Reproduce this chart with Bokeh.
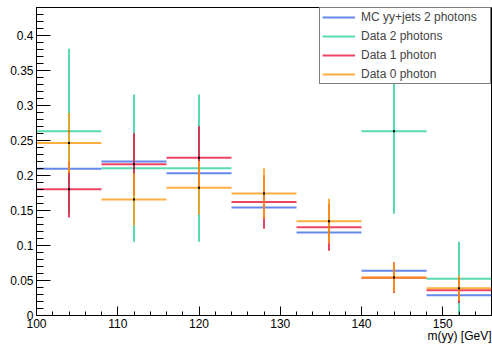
from bokeh.plotting import figure
from bokeh.models import (ColumnDataSource, FixedTicker, CustomJSTickFormatter,
                          Legend, LegendItem, Title, Range1d)
from bokeh.embed import file_html
from bokeh.resources import INLINE

# ---- data ----
bin_edges = [100, 108, 116, 124, 132, 140, 148, 156]

mc_2ph = [0.2095, 0.2200, 0.2033, 0.1543, 0.1186, 0.0638, 0.0290]
mc_2ph_err = [0.004, 0.004, 0.004, 0.003, 0.003, 0.002, 0.002]

data_2ph = [0.2632, 0.2105, 0.2105, 0.0, 0.0, 0.2632, 0.0526]
data_2ph_err = [0.1177, 0.1053, 0.1053, 0.0, 0.0, 0.1177, 0.0526]

data_1ph = [0.1802, 0.2162, 0.2252, 0.1622, 0.1261, 0.0541, 0.0360]
data_1ph_err = [0.0403, 0.0441, 0.0450, 0.0382, 0.0337, 0.0221, 0.0180]

data_0ph = [0.2464, 0.1657, 0.1824, 0.1743, 0.1348, 0.0543, 0.0390]
data_0ph_err = [0.0430, 0.0370, 0.0380, 0.0360, 0.0320, 0.0210, 0.0180]

series_names = ["MC yy+jets 2 photons", "Data 2 photons", "Data 1 photon", "Data 0 photon"]
series_values = [mc_2ph, data_2ph, data_1ph, data_0ph]
series_errors = [mc_2ph_err, data_2ph_err, data_1ph_err, data_0ph_err]
series_colors = ["#3f6ae8", "#2ed19e", "#e8163e", "#ff9a10"]

y_ticks = [0, 0.05, 0.1, 0.15, 0.2, 0.25, 0.3, 0.35, 0.4]
y_minor = [i / 100 for i in range(0, 45)]
x_ticks = [100, 110, 120, 130, 140, 150]
x_minor = list(range(100, 157, 2))
x_title = "m(yy) [GeV]"

FONT = "Liberation Sans"

p = figure(width=492, height=347, output_backend="svg", toolbar_location=None,
           x_range=Range1d(100, 156), y_range=Range1d(0, 0.44),
           min_border_left=36, min_border_right=1, min_border_top=7, min_border_bottom=32)
p.xgrid.visible = False
p.ygrid.visible = False
p.outline_line_color = "black"
p.outline_line_width = 1
p.background_fill_color = "white"
p.border_fill_color = "white"

for ax in (p.xaxis[0], p.yaxis[0]):
    ax.axis_line_color = "black"
    ax.major_tick_line_color = "black"
    ax.minor_tick_line_color = "black"
    ax.major_tick_out = 0
    ax.minor_tick_out = 0
    ax.major_label_text_font = FONT
    ax.major_label_text_font_size = "12px"
    ax.major_label_text_color = "black"
    ax.major_label_standoff = 3

p.xaxis.ticker = FixedTicker(ticks=x_ticks, minor_ticks=x_minor)
p.yaxis.ticker = FixedTicker(ticks=y_ticks, minor_ticks=y_minor)
p.xaxis.major_tick_in = 9
p.xaxis.minor_tick_in = 4
p.yaxis.major_tick_in = 14
p.yaxis.minor_tick_in = 7
p.yaxis.formatter = CustomJSTickFormatter(code="return String(Math.round(tick*100)/100);")
p.xaxis.formatter = CustomJSTickFormatter(code="return String(Math.round(tick));")

items = []
for name, vals, errs, col in zip(series_names, series_values, series_errors, series_colors):
    lo, hi, cx, y, ylo, yhi = [], [], [], [], [], []
    for i, (v, e) in enumerate(zip(vals, errs)):
        if v <= 0:
            continue
        lo.append(bin_edges[i]); hi.append(bin_edges[i + 1])
        cx.append((bin_edges[i] + bin_edges[i + 1]) / 2)
        y.append(v); ylo.append(v - e); yhi.append(v + e)
    src = ColumnDataSource(dict(lo=lo, hi=hi, cx=cx, y=y, ylo=ylo, yhi=yhi))
    h = p.segment(x0="lo", x1="hi", y0="y", y1="y", source=src,
                  line_color=col, line_width=2, line_alpha=0.8)
    p.segment(x0="cx", x1="cx", y0="ylo", y1="yhi", source=src,
              line_color=col, line_width=2, line_alpha=0.8)
    p.scatter(x="cx", y="y", source=src, size=2, fill_color="black",
              line_color=None, marker="square")
    items.append(LegendItem(label=name, renderers=[h]))

legend = Legend(items=items, location="top_right", margin=0, padding=2, spacing=5,
                label_height=14, glyph_height=14, glyph_width=33, label_standoff=6,
                label_width=127, border_line_color="black", border_line_width=1,
                background_fill_color="white", background_fill_alpha=1,
                label_text_font=FONT, label_text_font_size="12px")
p.add_layout(legend)

xt = Title(text=x_title, align="right", text_font=FONT, text_font_size="12px",
           text_font_style="normal", text_color="black", standoff=-7, offset=0)
p.add_layout(xt, "below")

open("out.html", "w").write(file_html(p, INLINE))
